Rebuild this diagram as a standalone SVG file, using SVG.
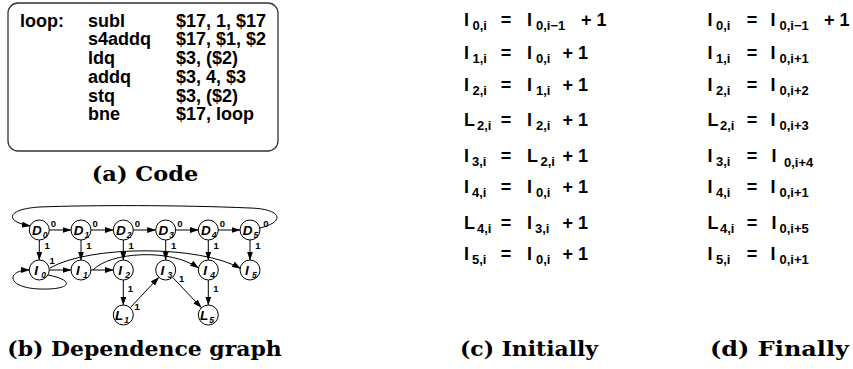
<svg xmlns="http://www.w3.org/2000/svg" width="853" height="369" viewBox="0 0 853 369">
  <style>
    .code { font-family: "Liberation Sans", Arial, sans-serif; font-weight: bold; font-size: 18px; fill: #000; }
    .cap { font-family: "DejaVu Serif", "Liberation Serif", serif; font-weight: bold; font-size: 20px; fill: #000; }
    .node circle { fill: #fff; stroke: #000; stroke-width: 1; }
    .nl { font-family: "Liberation Sans", Arial, sans-serif; font-weight: bold; font-style: italic; font-size: 13.5px; fill: #000; }
    .ns { font-family: "Liberation Sans", Arial, sans-serif; font-weight: bold; font-style: italic; font-size: 8.5px; fill: #000; }
    .el { font-family: "Liberation Sans", Arial, sans-serif; font-weight: bold; font-size: 9.5px; fill: #000; }
    .edge { fill: none; stroke: #000; stroke-width: 1; marker-end: url(#arr); }
    .m { font-family: "Liberation Sans", Arial, sans-serif; font-weight: bold; font-size: 18px; fill: #000; }
    .s { font-family: "Liberation Sans", Arial, sans-serif; font-weight: bold; font-size: 13px; fill: #000; }
    .eq { text-anchor: middle; }
  </style>
  <defs>
    <marker id="arr" markerUnits="userSpaceOnUse" markerWidth="9" markerHeight="6" refX="8.5" refY="3" orient="auto">
      <path d="M0,0 L9,3 L0,6 z" fill="#000"/>
    </marker>
  </defs>
  <rect width="853" height="369" fill="#fff"/>

  <!-- (a) assembly listing -->
  <g id="code">
    <rect x="8" y="3" width="270" height="148" rx="10" ry="10" fill="none" stroke="#333" stroke-width="1.3"/>
    <text class="code" x="20" y="26.7">loop:</text>
    <text class="code" x="88" y="26.7">subl</text>
    <text class="code" x="176" y="26.7">$17, 1, $17</text>
    <text class="code" x="88" y="45">s4addq</text>
    <text class="code" x="176" y="45">$17, $1, $2</text>
    <text class="code" x="88" y="64">ldq</text>
    <text class="code" x="176" y="64">$3, ($2)</text>
    <text class="code" x="88" y="83">addq</text>
    <text class="code" x="176" y="83">$3, 4, $3</text>
    <text class="code" x="88" y="101.7">stq</text>
    <text class="code" x="176" y="101.7">$3, ($2)</text>
    <text class="code" x="88" y="120">bne</text>
    <text class="code" x="176" y="120">$17, loop</text>
  </g>
  <text class="cap" x="91.7" y="180.7" textLength="106.6" lengthAdjust="spacingAndGlyphs">(a) Code</text>

  <!-- (b) dependence graph: connectors -->
  <g id="connectors">
    <!-- D chain -->
    <line class="edge" x1="49.3" y1="230" x2="71" y2="230"/>
    <line class="edge" x1="91" y1="230" x2="113.3" y2="230"/>
    <line class="edge" x1="133.3" y1="230" x2="155.7" y2="230"/>
    <line class="edge" x1="175.7" y1="230" x2="198.3" y2="230"/>
    <line class="edge" x1="218.3" y1="230" x2="240" y2="230"/>
    <!-- wrap-around from D5 back to D0 -->
    <path class="edge" d="M260,228 C285,222 283,209 250,208 C180,205 90,205 40,207 C5,209 5,222 30.5,226"/>
    <!-- D to I -->
    <line class="edge" x1="39.3" y1="240" x2="39.3" y2="260"/>
    <line class="edge" x1="81" y1="240" x2="81" y2="260"/>
    <line class="edge" x1="123.3" y1="240" x2="123.3" y2="260"/>
    <line class="edge" x1="165.7" y1="240" x2="165.7" y2="260"/>
    <line class="edge" x1="208.3" y1="240" x2="208.3" y2="260"/>
    <line class="edge" x1="250" y1="240" x2="250" y2="260"/>
    <!-- I chain -->
    <path class="edge" d="M48,275 C75,280 72,290 40,289 C6,288 6,270 29.3,270"/>
    <line class="edge" x1="49.3" y1="270" x2="71" y2="270"/>
    <line class="edge" x1="91" y1="270" x2="113.3" y2="270"/>
    <path class="edge" d="M50,268 C90,245 200,245 240.5,268.5"/>
    <path class="edge" d="M93,270 C110,252 170,248 198.5,268"/>
    <line class="edge" x1="123.3" y1="280" x2="123.3" y2="305"/>
    <line class="edge" x1="130.2" y1="307.7" x2="158.8" y2="277.3"/>
    <line class="edge" x1="172.6" y1="277.3" x2="201.4" y2="307.7"/>
    <line class="edge" x1="208.3" y1="280" x2="208.3" y2="305"/>
    <!-- edge weights -->
    <text class="el" x="50.8" y="226.5">0</text>
    <text class="el" x="92.5" y="226.5">0</text>
    <text class="el" x="134.8" y="226.5">0</text>
    <text class="el" x="177.2" y="226.5">0</text>
    <text class="el" x="219.8" y="226.5">0</text>
    <text class="el" x="263.2" y="226.5">0</text>
    <text class="el" x="44.5" y="248.5">1</text>
    <text class="el" x="86.2" y="248.5">1</text>
    <text class="el" x="128.5" y="248.5">1</text>
    <text class="el" x="170.9" y="248.5">1</text>
    <text class="el" x="213.5" y="248.5">1</text>
    <text class="el" x="255.2" y="248.5">1</text>
    <text class="el" x="49.5" y="263.5">1</text>
    <text class="el" x="127.8" y="291.5">1</text>
    <text class="el" x="134.5" y="310">1</text>
    <text class="el" x="179" y="281.5">1</text>
    <text class="el" x="213.3" y="291.5">1</text>
  </g>

  <!-- (b) dependence graph: nodes -->
  <g id="D0" class="node"><circle cx="39.3" cy="230" r="10"/><text class="nl" x="32" y="234.8">D</text><text class="ns" x="42.8" y="237.8">0</text></g>
  <g id="D1" class="node"><circle cx="81" cy="230" r="10"/><text class="nl" x="73.7" y="234.8">D</text><text class="ns" x="84.5" y="237.8">1</text></g>
  <g id="D2" class="node"><circle cx="123.3" cy="230" r="10"/><text class="nl" x="116" y="234.8">D</text><text class="ns" x="126.8" y="237.8">2</text></g>
  <g id="D3" class="node"><circle cx="165.7" cy="230" r="10"/><text class="nl" x="158.4" y="234.8">D</text><text class="ns" x="169.2" y="237.8">3</text></g>
  <g id="D4" class="node"><circle cx="208.3" cy="230" r="10"/><text class="nl" x="201" y="234.8">D</text><text class="ns" x="211.8" y="237.8">4</text></g>
  <g id="D5" class="node"><circle cx="250" cy="230" r="10"/><text class="nl" x="242.7" y="234.8">D</text><text class="ns" x="253.5" y="237.8">5</text></g>
  <g id="I0" class="node"><circle cx="39.3" cy="270" r="10"/><text class="nl" x="34.2" y="274.8">I</text><text class="ns" x="41.2" y="277.8">0</text></g>
  <g id="I1" class="node"><circle cx="81" cy="270" r="10"/><text class="nl" x="75.9" y="274.8">I</text><text class="ns" x="82.9" y="277.8">1</text></g>
  <g id="I2" class="node"><circle cx="123.3" cy="270" r="10"/><text class="nl" x="118.2" y="274.8">I</text><text class="ns" x="125.2" y="277.8">2</text></g>
  <g id="I3" class="node"><circle cx="165.7" cy="270" r="10"/><text class="nl" x="160.6" y="274.8">I</text><text class="ns" x="167.6" y="277.8">3</text></g>
  <g id="I4" class="node"><circle cx="208.3" cy="270" r="10"/><text class="nl" x="203.2" y="274.8">I</text><text class="ns" x="210.2" y="277.8">4</text></g>
  <g id="I5" class="node"><circle cx="250" cy="270" r="10"/><text class="nl" x="244.9" y="274.8">I</text><text class="ns" x="251.9" y="277.8">5</text></g>
  <g id="L1" class="node"><circle cx="123.3" cy="315" r="10"/><text class="nl" x="115" y="319.8">L</text><text class="ns" x="124.3" y="322.8">1</text></g>
  <g id="L5" class="node"><circle cx="208.3" cy="315" r="10"/><text class="nl" x="200" y="319.8">L</text><text class="ns" x="209.3" y="322.8">5</text></g>
  <text class="cap" x="7.3" y="356" textLength="274.4" lengthAdjust="spacingAndGlyphs">(b) Dependence graph</text>

  <!-- (c) initial equations -->
  <g id="initially">
    <text class="m" x="464" y="26">I</text><text class="s" x="472.5" y="30">0,i</text><text class="m eq" x="506" y="26">=</text><text class="m" x="527" y="26">I</text><text class="s" x="536" y="30">0,i−1</text><text class="m" x="581" y="26">+ 1</text>
    <text class="m" x="464" y="58.5">I</text><text class="s" x="472.5" y="62.5">1,i</text><text class="m eq" x="506" y="58.5">=</text><text class="m" x="527" y="58.5">I</text><text class="s" x="536" y="62.5">0,i</text><text class="m" x="562.5" y="58.5">+ 1</text>
    <text class="m" x="464" y="91">I</text><text class="s" x="472.5" y="95">2,i</text><text class="m eq" x="506" y="91">=</text><text class="m" x="527" y="91">I</text><text class="s" x="536" y="95">1,i</text><text class="m" x="562.5" y="91">+ 1</text>
    <text class="m" x="464" y="125.5">L</text><text class="s" x="477" y="129.5">2,i</text><text class="m eq" x="506" y="125.5">=</text><text class="m" x="527" y="125.5">I</text><text class="s" x="536" y="129.5">2,i</text><text class="m" x="562.5" y="125.5">+ 1</text>
    <text class="m" x="464" y="161.5">I</text><text class="s" x="472" y="165.5">3,i</text><text class="m eq" x="506" y="161.5">=</text><text class="m" x="527" y="161.5">L</text><text class="s" x="540.5" y="165.5">2,i</text><text class="m" x="562.5" y="161.5">+ 1</text>
    <text class="m" x="464" y="193">I</text><text class="s" x="472" y="197">4,i</text><text class="m eq" x="506" y="193">=</text><text class="m" x="527" y="193">I</text><text class="s" x="536" y="197">0,i</text><text class="m" x="562.5" y="193">+ 1</text>
    <text class="m" x="464" y="228.5">L</text><text class="s" x="477" y="232.5">4,i</text><text class="m eq" x="506" y="228.5">=</text><text class="m" x="527" y="228.5">I</text><text class="s" x="535" y="232.5">3,i</text><text class="m" x="562.5" y="228.5">+ 1</text>
    <text class="m" x="464" y="260">I</text><text class="s" x="472" y="264">5,i</text><text class="m eq" x="506" y="260">=</text><text class="m" x="527" y="260">I</text><text class="s" x="536" y="264">0,i</text><text class="m" x="562.5" y="260">+ 1</text>
  </g>
  <text class="cap" x="460" y="356" textLength="138" lengthAdjust="spacingAndGlyphs">(c) Initially</text>

  <!-- (d) final equations -->
  <g id="finally">
    <text class="m" x="707.5" y="26">I</text><text class="s" x="716" y="30">0,i</text><text class="m eq" x="752" y="26">=</text><text class="m" x="770.5" y="26">I</text><text class="s" x="779.5" y="30">0,i−1</text><text class="m" x="824" y="26">+ 1</text>
    <text class="m" x="707.5" y="58.5">I</text><text class="s" x="716" y="62.5">1,i</text><text class="m eq" x="752" y="58.5">=</text><text class="m" x="770.5" y="58.5">I</text><text class="s" x="779.5" y="62.5">0,i+1</text>
    <text class="m" x="707.5" y="91">I</text><text class="s" x="716" y="95">2,i</text><text class="m eq" x="752" y="91">=</text><text class="m" x="770.5" y="91">I</text><text class="s" x="779.5" y="95">0,i+2</text>
    <text class="m" x="707.5" y="125.5">L</text><text class="s" x="720" y="129.5">2,i</text><text class="m eq" x="752" y="125.5">=</text><text class="m" x="770.5" y="125.5">I</text><text class="s" x="779.5" y="129.5">0,i+3</text>
    <text class="m" x="707.5" y="161.5">I</text><text class="s" x="716" y="165.5">3,i</text><text class="m eq" x="752" y="161.5">=</text><text class="m" x="771.5" y="161.5">I</text><text class="s" x="784" y="166.5">0,i+4</text>
    <text class="m" x="707.5" y="193">I</text><text class="s" x="716" y="197">4,i</text><text class="m eq" x="752" y="193">=</text><text class="m" x="770.5" y="193">I</text><text class="s" x="779.5" y="197">0,i+1</text>
    <text class="m" x="707.5" y="228.5">L</text><text class="s" x="720" y="232.5">4,i</text><text class="m eq" x="752" y="228.5">=</text><text class="m" x="771.5" y="228.5">I</text><text class="s" x="779.5" y="232.5">0,i+5</text>
    <text class="m" x="707.5" y="260">I</text><text class="s" x="716" y="264">5,i</text><text class="m eq" x="752" y="260">=</text><text class="m" x="770.5" y="260">I</text><text class="s" x="779.5" y="264">0,i+1</text>
  </g>
  <text class="cap" x="710" y="356" textLength="139" lengthAdjust="spacingAndGlyphs">(d) Finally</text>
</svg>
